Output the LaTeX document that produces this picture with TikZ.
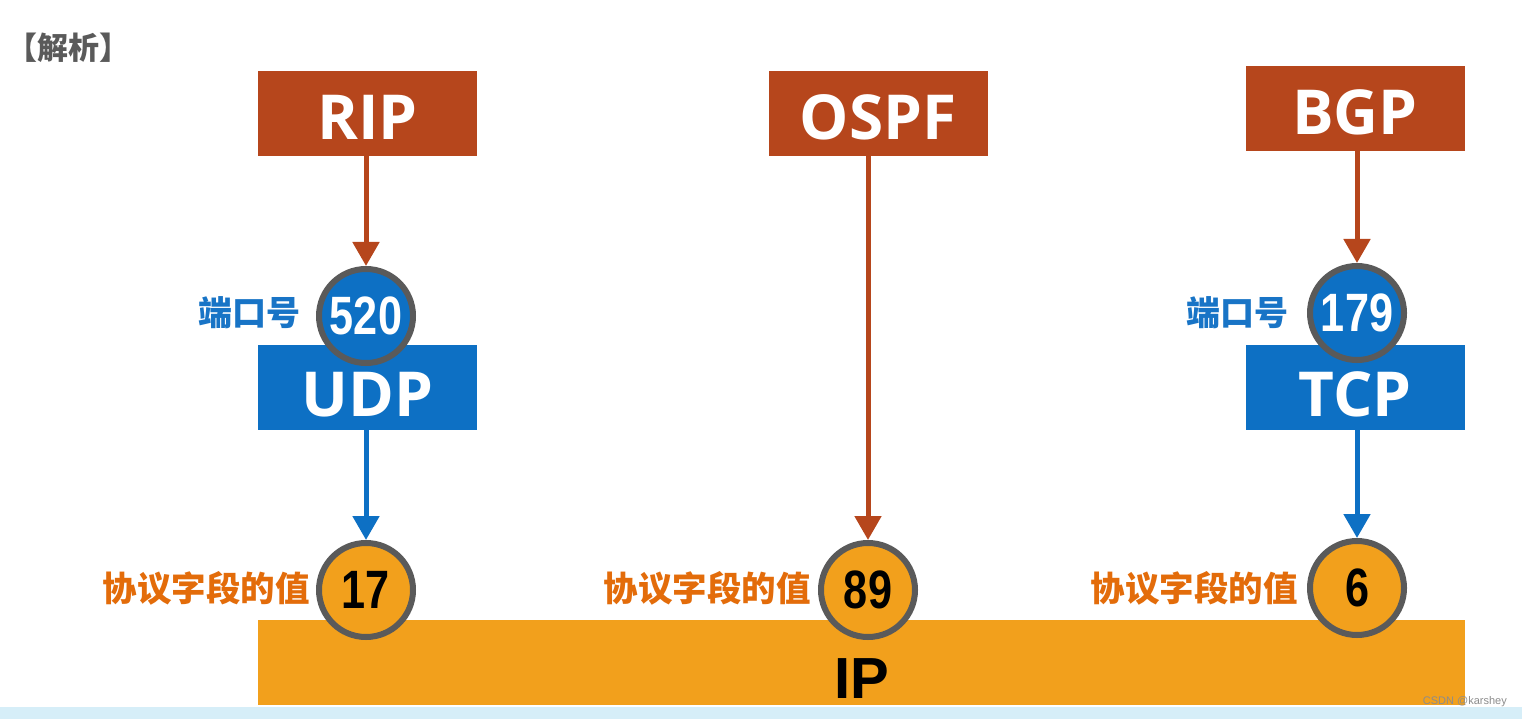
\documentclass[tikz,border=0pt]{standalone}
\usepackage{fontspec}
\usepackage{graphicx}
\usetikzlibrary{arrows.meta}
\newfontfamily\latinb{Open Sans}
\newfontfamily\numf{Liberation Sans}
\newfontfamily\cjk{Noto Sans CJK SC}
\definecolor{rbrown}{HTML}{B6461C}
\definecolor{pblue}{HTML}{0D70C4}
\definecolor{porange}{HTML}{F2A01C}
\definecolor{torange}{HTML}{E36C0A}
\definecolor{ringgray}{HTML}{5A5A5A}
\definecolor{lblue}{HTML}{1874C6}
\definecolor{bgstrip}{HTML}{D6EEF8}
% text lowered below the box centre: baseline at node centre, shifted down
\newcommand{\lowtxt}[2]{\raisebox{-#1}[0pt][0pt]{#2}}
\newcommand{\numtxt}[1]{\scalebox{0.8}[1]{#1}}
\tikzset{
  protobox/.style={rectangle, minimum width=219pt, minimum height=85pt, inner sep=0pt, text=white, font=\latinb\bfseries\fontsize{62}{62}\selectfont},
  numcircle/.style={circle, draw=ringgray, line width=6pt, minimum size=94pt, inner sep=0pt},
  numtext/.style={font=\numf\bfseries\fontsize{54}{54}\selectfont},
  portlabel/.style={text=lblue, font=\cjk\bfseries\fontsize{34}{34}\selectfont, inner sep=0pt},
  fieldlabel/.style={text=torange, font=\cjk\bfseries\fontsize{34.5}{34.5}\selectfont, inner sep=0pt},
  brownarrow/.style={draw=rbrown, line width=5pt, -{Triangle[width=26pt,length=24pt]}},
  bluearrow/.style={draw=pblue, line width=5pt, -{Triangle[width=26pt,length=24pt]}}
}
\begin{document}
\begin{tikzpicture}[x=1pt,y=-1pt]
\useasboundingbox (0,0) rectangle (1522,719);
\fill[white] (0,0) rectangle (1522,719);
% background strip at bottom
\fill[bgstrip] (0,707) rectangle (1522,719);

\node[text=ringgray, font=\cjk\bfseries\fontsize{31}{31}\selectfont, inner sep=0pt, anchor=west] (title) at (6,48) {【解析】};

% IP bar
\node[rectangle, fill=porange, minimum width=1207pt, minimum height=85pt, inner sep=0pt,
      font=\numf\bfseries\fontsize{58}{58}\selectfont, text=black] (ip) at (861.5,662.5) {\lowtxt{36pt}{IP}};

% top protocol boxes
\node[protobox, fill=rbrown] (rip) at (367.5,113.5) {\lowtxt{26pt}{RIP}};
\node[protobox, fill=rbrown] (ospf) at (878,113.5) {\lowtxt{26pt}{OSPF}};
\node[protobox, fill=rbrown] (bgp) at (1355,108.5) {\lowtxt{26pt}{BGP}};

% transport boxes
\node[protobox, fill=pblue] (udp) at (367.5,387.5) {\lowtxt{29pt}{UDP}};
\node[protobox, fill=pblue] (tcp) at (1355,387.5) {\lowtxt{29pt}{TCP}};

% port circles
\node[numcircle, fill=pblue, text=white, numtext] (p520) at (366,316) {\numtxt{520}};
\node[numcircle, fill=pblue, text=white, numtext] (p179) at (1357,313) {\numtxt{179}};

% protocol field circles
\node[numcircle, fill=porange, text=black, numtext] (f17) at (366,590) {\numtxt{17}};
\node[numcircle, fill=porange, text=black, numtext] (f89) at (868,590) {\numtxt{89}};
\node[numcircle, fill=porange, text=black, numtext] (f6) at (1357,588) {\numtxt{6}};

% labels
\node[portlabel, anchor=east] (l520) at (301,313) {端口号};
\node[portlabel, anchor=east] (l179) at (1289,313) {端口号};
\node[fieldlabel, anchor=east] (l17) at (310,588) {协议字段的值};
\node[fieldlabel, anchor=east] (l89) at (811,588) {协议字段的值};
\node[fieldlabel, anchor=east] (l6) at (1298,588) {协议字段的值};

% arrows
\draw[brownarrow] (rip.south -| p520) -- (p520.north);
\draw[brownarrow] (ospf.south -| f89) -- (f89.north);
\draw[brownarrow] (bgp.south -| p179) -- (p179.north);
\draw[bluearrow] (udp.south -| f17) -- (f17.north);
\draw[bluearrow] (tcp.south -| f6) -- (f6.north);

% watermark
\node[text=gray!90, font=\numf\fontsize{11}{11}\selectfont, inner sep=0pt, anchor=east] (wm) at (1507,702) {CSDN @karshey};
\end{tikzpicture}
\end{document}
